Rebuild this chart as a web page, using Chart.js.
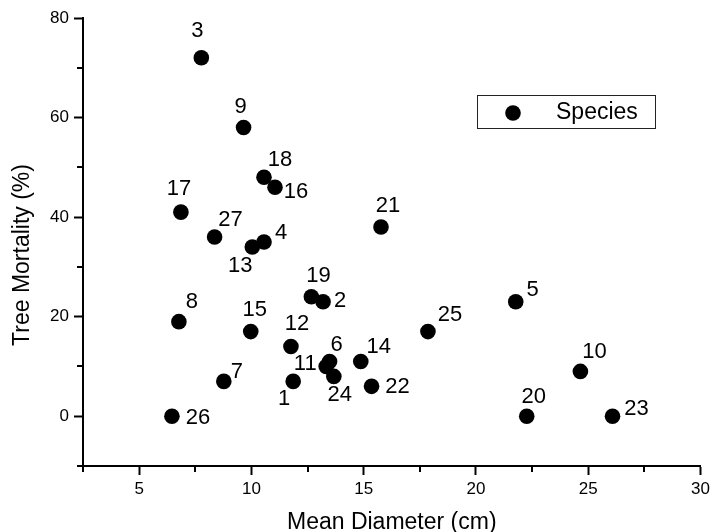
<!DOCTYPE html>
<html>
<head>
<meta charset="utf-8">
<script src="https://cdn.jsdelivr.net/npm/chart.js@4/dist/chart.umd.min.js"></script>
<style>
  html, body { margin: 0; padding: 0; background: #fff; }
  #wrap { width: 714px; height: 532px; }
</style>
</head>
<body>
<div id="wrap"><canvas id="chart" width="714" height="532"></canvas></div>
<script>
// species number, mean diameter (cm), tree mortality (%)
const speciesIds = ['1','2','3','4','5','6','7','8','9','10','11','12','13','14',
                    '15','16','17','18','19','20','21','22','23','24','25','26','27'];
const diameter  = [11.86, 13.19, 7.77, 10.56, 21.77, 13.48, 8.77, 6.77, 9.65, 24.65, 13.33, 11.76, 10.04, 14.87,
                   9.97, 11.05, 6.86, 10.56, 12.67, 22.26, 15.77, 15.35, 26.08, 13.67, 17.86, 6.46, 8.36];
const mortality = [7, 23, 72, 35, 23, 11, 7, 19, 58, 9, 10, 14, 34, 11,
                   17, 46, 41, 48, 24, 0, 38, 6, 0, 8, 17, 0, 36];

const xTicks = [5, 10, 15, 20, 25, 30];
const xMinor = [2.5, 7.5, 12.5, 17.5, 22.5, 27.5];
const yTicks = [0, 20, 40, 60, 80];
const yMinor = [-10, 10, 30, 50, 70];

// where each number label sits relative to its dot (px)
const labelShift = [[-9,18],[17,-1],[-4,-27],[17,-9],[17,-12],[7,-17],[13,-9],[13,-20],[-3,-21],[14,-19],
                    [-21,-3],[6,-23],[-12,19],[18,-15],[4,-22],[21,5],[-2,-23],[16,-17],[7,-21],[7,-19],
                    [7,-21],[26,1],[24,-7],[6,19],[22,-17],[26,2],[16,-17]];

const FONT = '"Liberation Sans", Arial, Helvetica, sans-serif';

const points = diameter.map((d, i) => ({ x: d, y: mortality[i] }));

const extras = {
  id: 'extras',
  afterDraw(chart) {
    const ctx = chart.ctx;
    const xs = chart.scales.x, ys = chart.scales.y;
    ctx.save();
    // minor ticks
    ctx.strokeStyle = '#000';
    ctx.lineWidth = 2;
    const bottom = chart.chartArea.bottom, left = chart.chartArea.left;
    xMinor.forEach(v => {
      const px = Math.round(xs.getPixelForValue(v));
      ctx.beginPath(); ctx.moveTo(px, bottom); ctx.lineTo(px, bottom + 6); ctx.stroke();
    });
    yMinor.forEach(v => {
      const py = Math.round(ys.getPixelForValue(v));
      ctx.beginPath(); ctx.moveTo(left, py); ctx.lineTo(left - 6, py); ctx.stroke();
    });

    // number labels
    ctx.fillStyle = '#000';
    ctx.font = '22px ' + FONT;
    ctx.textAlign = 'center';
    ctx.textBaseline = 'middle';
    const meta = chart.getDatasetMeta(0);
    meta.data.forEach((el, i) => {
      const s = labelShift[i];
      ctx.fillText(speciesIds[i], el.x + s[0], el.y + s[1]);
    });

    // y title
    ctx.save();
    ctx.translate(23, 255);
    ctx.rotate(-Math.PI / 2);
    ctx.font = '23px ' + FONT;
    ctx.fillText('Tree Mortality (%)', 0, 0);
    ctx.restore();

    // legend box
    ctx.lineWidth = 1;
    ctx.strokeStyle = '#222';
    ctx.strokeRect(477.5, 95.5, 178, 33);
    ctx.beginPath();
    ctx.arc(513, 113, 7.8, 0, Math.PI * 2);
    ctx.fill();
    ctx.textAlign = 'left';
    ctx.font = '23px ' + FONT;
    ctx.fillText(chart.data.datasets[0].label, 556, 113);
    ctx.restore();
  }
};

new Chart(document.getElementById('chart'), {
  type: 'scatter',
  data: {
    datasets: [{
      label: 'Species',
      data: points,
      backgroundColor: '#000',
      borderWidth: 0,
      pointRadius: 7.8,
      pointHoverRadius: 7.8
    }]
  },
  options: {
    responsive: false,
    animation: false,
    layout: { padding: { top: 18, right: 10, left: 0, bottom: 0 } },
    plugins: { legend: { display: false }, tooltip: { enabled: false } },
    scales: {
      x: {
        type: 'linear',
        min: 2.5, max: 30,
        afterBuildTicks: s => { s.ticks = xTicks.map(v => ({ value: v })); },
        afterFit: s => { s.height = 66; },
        grid: { drawOnChartArea: false, tickLength: 9, tickWidth: 2, tickColor: '#000' },
        border: { color: '#000', width: 2 },
        ticks: { color: '#000', font: { family: FONT, size: 17 }, padding: 4, maxRotation: 0 },
        title: { display: true, text: 'Mean Diameter (cm)', color: '#000',
                 font: { family: FONT, size: 23 }, padding: { top: 9, bottom: -4 } }
      },
      y: {
        type: 'linear',
        min: -10, max: 80,
        afterBuildTicks: s => { s.ticks = yTicks.map(v => ({ value: v })); },
        afterFit: s => { s.width = 83; },
        grid: { drawOnChartArea: false, tickLength: 9, tickWidth: 2, tickColor: '#000' },
        border: { color: '#000', width: 2 },
        ticks: { color: '#000', font: { family: FONT, size: 17 }, padding: 5 }
      }
    }
  },
  plugins: [extras]
});
</script>
</body>
</html>
